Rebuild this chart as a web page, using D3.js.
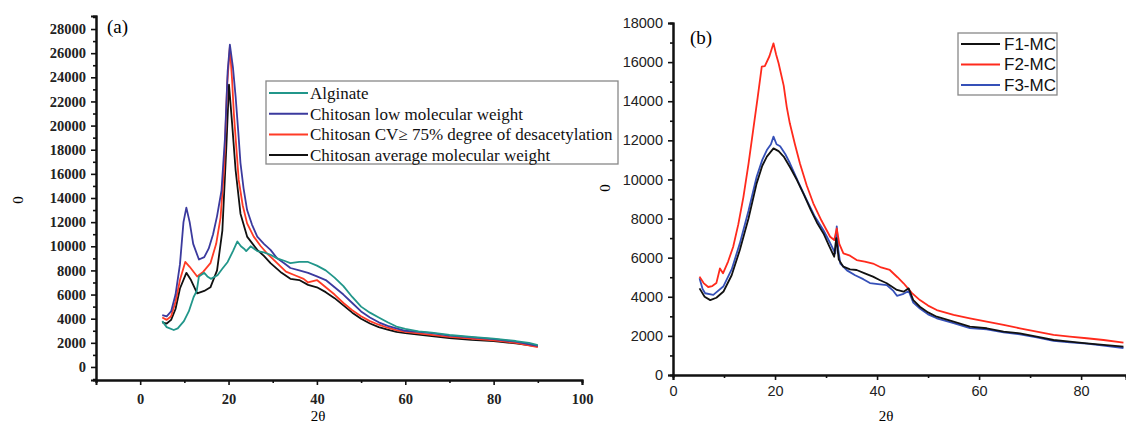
<!DOCTYPE html>
<html>
<head>
<meta charset="utf-8">
<script src="https://cdn.jsdelivr.net/npm/d3@7"></script>
<style>
    body { margin: 0; background: #fff; }
    svg { display: block; }
    .serif text { font-family: "Liberation Serif", "DejaVu Serif", serif; }
    .sans text { font-family: "Liberation Sans", Arial, sans-serif; }
</style>
</head>
<body>
<div id="chart"></div>
<script>
// panel (a) - [2theta, intensity]
const alginate = [[5,3800],[6,3300],[7.6,3060],[8.5,3200],[9.9,3800],[11,4600],[12.1,5800],[12.8,6300],[13.3,7500],[14.5,7800],[15.2,7500],[16,7300],[17.5,7600],[18.5,8100],[19.8,8700],[21,9600],[22,10400],[22.8,10000],[23.5,9800],[24,9600],[25,10000],[26.5,9600],[28,9500],[29.5,9300],[31,9000],[32.6,8800],[34,8600],[36,8700],[38,8700],[40,8400],[42,8000],[44,7400],[46,6700],[48,5800],[50,5000],[52,4500],[54,4100],[56,3700],[58,3350],[60,3150],[63,2950],[66,2850],[70,2650],[75,2500],[80,2350],[85,2150],[88,2000],[90,1800]];
const chitosanLow = [[5,4300],[6,4200],[7,4600],[8,6000],[9,8500],[9.8,12000],[10.45,13200],[11.2,12000],[12,10200],[13.3,8900],[14.5,9100],[15.5,9800],[16.5,11000],[17.4,12500],[18.4,14600],[19.2,19000],[19.8,24500],[20.3,26700],[21,24800],[21.6,22400],[22.2,19500],[22.7,16900],[23.4,14800],[24.2,13000],[25.3,11800],[26.5,10800],[28,10200],[29.5,9700],[31,9000],[32.6,8600],[34,8200],[36,8000],[38,7800],[40,7500],[42,7200],[44,6600],[46,6000],[48,5300],[50,4600],[52,4100],[54,3700],[56,3400],[58,3200],[60,3000],[63,2900],[66,2800],[70,2600],[75,2450],[80,2300],[85,2100],[90,1750]];
const chitosanCV = [[5,4100],[6,3900],[7,4200],[8,5400],[9,7200],[10.2,8700],[11.2,8300],[12.9,7500],[14.3,7900],[15.9,8600],[17.2,10200],[18.2,12400],[19,16500],[19.7,23500],[20.3,26500],[20.8,23800],[21.2,21000],[21.8,18000],[22.3,15500],[23.2,13400],[24.2,11900],[25.7,10800],[27.3,10000],[29,9300],[31,8600],[33,7900],[35,7600],[37,7300],[38,7000],[40,7200],[42,6600],[44,6000],[46,5300],[48,4700],[50,4200],[52,3800],[54,3500],[56,3250],[58,3050],[60,2900],[65,2700],[70,2500],[75,2350],[80,2200],[85,2000],[90,1650]];
const chitosanAvg = [[5,3700],[6,3600],[7,3900],[8,4800],[9,6500],[10.45,7800],[11.5,7200],[12.9,6100],[14.5,6300],[15.9,6600],[17.4,8000],[18.6,11300],[19.5,18200],[20.1,23400],[20.8,20200],[21.6,16300],[22.7,12700],[24.2,10800],[26.5,9700],[28,9200],[29.5,8600],[32,7800],[34,7300],[36,7200],[38,6800],[40,6600],[42,6200],[44,5700],[46,5100],[48,4500],[50,4000],[52,3600],[54,3300],[56,3100],[58,2900],[60,2800],[65,2600],[70,2400],[75,2250],[80,2150],[85,1950],[90,1700]];

// panel (b) - [2theta, intensity]
const f1mc = [[5.2,4430],[6.2,4000],[7.3,3830],[8.5,3950],[9.9,4270],[11.5,5100],[13.1,6390],[14.8,8000],[16.4,9800],[17.5,10700],[18.4,11170],[19.7,11590],[20.7,11450],[21.7,11170],[23,10600],[24.3,9970],[25.7,9200],[27,8440],[28.2,7800],[29.5,7240],[30.6,6600],[31.6,6050],[32,7000],[32.5,5900],[33.4,5540],[34.7,5400],[36,5370],[37.6,5200],[39.2,5030],[40.5,4860],[41.9,4690],[43.9,4350],[45.2,4260],[46.2,4430],[47.1,3830],[48.4,3490],[50,3200],[51.7,2980],[55,2730],[58.2,2470],[61.5,2390],[64.8,2220],[68,2130],[71.3,1960],[74.6,1790],[77.8,1710],[81.1,1620],[84.4,1540],[88.3,1450]];
const f2mc = [[5.2,5030],[6,4700],[6.9,4500],[7.7,4550],[8.5,4700],[9.2,5450],[9.8,5200],[10.8,5800],[11.8,6560],[12.8,7700],[13.8,9100],[14.8,10800],[15.7,12500],[16.6,14200],[17.4,15770],[18,15800],[18.9,16300],[19.7,16960],[20.2,16400],[20.7,15940],[21.7,14800],[22.3,13700],[22.9,12870],[23.9,11800],[24.9,10800],[26.2,9700],[27.5,8780],[29.1,7900],[30.8,7070],[31.6,6900],[32.1,7500],[32.6,6700],[33.4,6220],[34.7,6100],[36,5880],[37.6,5800],[39.2,5700],[40.8,5500],[42.5,5370],[44,5000],[45.2,4690],[46.8,4200],[48.4,3830],[50,3550],[51.7,3320],[55,3070],[58.2,2900],[61.5,2730],[64.8,2560],[68,2390],[71.3,2220],[74.6,2050],[77.8,1960],[81.1,1880],[84.4,1790],[88.3,1650]];
const f3mc = [[5.2,4950],[5.8,4400],[6.3,4180],[7.9,4100],[9.9,4540],[11.5,5400],[13.1,6730],[14.8,8400],[16.4,10140],[17.5,11000],[18.4,11500],[19.2,11800],[19.7,12190],[20.3,11800],[21,11700],[22,11300],[22.9,10840],[24.5,9900],[26.2,8950],[27.8,8100],[29.5,7400],[30.7,6800],[31.8,6220],[32.1,7600],[32.4,6400],[32.8,5700],[34.1,5350],[35.7,5100],[37.3,4900],[38.6,4700],[40.2,4650],[41.9,4600],[43.2,4300],[43.9,4050],[45.2,4150],[46.2,4300],[47.1,3700],[48.4,3400],[50,3100],[51.7,2900],[55,2650],[58.2,2400],[61.5,2330],[64.8,2180],[68,2080],[71.3,1920],[74.6,1750],[77.8,1670],[81.1,1600],[84.4,1500],[88.3,1380]];

const seriesA = [
    { name: "Alginate", color: "#21968a", values: alginate },
    { name: "Chitosan low molecular weight", color: "#3b3a9e", values: chitosanLow },
    { name: "Chitosan CV\u2265 75% degree of desacetylation", color: "#ff3b26", values: chitosanCV },
    { name: "Chitosan average molecular weight", color: "#111111", values: chitosanAvg }
];
const seriesB = [
    { name: "F1-MC", color: "#111111", values: f1mc },
    { name: "F2-MC", color: "#ff2a1c", values: f2mc },
    { name: "F3-MC", color: "#3550b8", values: f3mc }
];
const ticksAx = [0, 20, 40, 60, 80, 100];
const ticksAy = d3.range(0, 28001, 2000);
const ticksBx = [0, 20, 40, 60, 80];
const ticksBy = d3.range(0, 18001, 2000);

const svg = d3.select("#chart").append("svg")
    .attr("width", 1126)
    .attr("height", 424);

function drawPanel(cfg) {
    let g = svg.append("g").attr("class", cfg.cls);
    let x = d3.scaleLinear().domain(cfg.xDomain).range(cfg.xRange);
    let y = d3.scaleLinear().domain(cfg.yDomain).range(cfg.yRange);

    // minor ticks first, then major with labels
    g.append("g")
        .attr("transform", "translate(0," + cfg.yRange[0] + ")")
        .call(d3.axisBottom(x).tickValues(cfg.xMinor).tickSize(3).tickFormat(""));
    g.append("g")
        .attr("transform", "translate(" + cfg.xRange[0] + ",0)")
        .call(d3.axisLeft(y).tickValues(cfg.yMinor).tickSize(3).tickFormat(""));

    let ax = g.append("g")
        .attr("transform", "translate(0," + cfg.yRange[0] + ")")
        .call(d3.axisBottom(x).tickValues(cfg.xTicks).tickSize(5).tickPadding(cfg.xPad).tickFormat(d3.format("d")));
    let ay = g.append("g")
        .attr("transform", "translate(" + cfg.xRange[0] + ",0)")
        .call(d3.axisLeft(y).tickValues(cfg.yTicks).tickSize(5).tickPadding(5).tickFormat(d3.format("d")));

    g.selectAll(".domain, .tick line").attr("stroke", "#111").attr("stroke-width", 1.6);
    g.selectAll(".domain").attr("stroke-width", 2);
    [ax, ay].forEach(a => a.selectAll("text")
        .attr("fill", "#222")
        .style("font-size", cfg.tickFont)
        .style("font-weight", cfg.tickWeight));

    let line = d3.line()
        .x(d => x(d[0]))
        .y(d => y(d[1]));

    g.append("g").selectAll("path")
        .data(cfg.series.slice().reverse())
        .enter().append("path")
        .attr("fill", "none")
        .attr("stroke", d => d.color)
        .attr("stroke-width", 1.8)
        .attr("stroke-linejoin", "round")
        .attr("d", d => line(d.values));

    // panel letter and axis titles
    g.append("text").attr("x", cfg.letter[0]).attr("y", cfg.letter[1])
        .style("font-family", "Liberation Serif, serif")
        .style("font-size", "19px").text(cfg.letterText);
    g.append("text").attr("x", cfg.xTitle[0]).attr("y", cfg.xTitle[1])
        .attr("text-anchor", "middle")
        .style("font-family", "Liberation Serif, serif")
        .style("font-size", "15px").text("2\u03b8");
    g.append("text")
        .attr("transform", "translate(" + cfg.yTitle[0] + "," + cfg.yTitle[1] + ") rotate(-90)")
        .attr("text-anchor", "middle")
        .style("font-family", "Liberation Serif, serif")
        .style("font-size", "15px").text("0");

    // legend
    let lg = cfg.legend;
    let leg = g.append("g");
    leg.append("rect")
        .attr("x", lg.x).attr("y", lg.y)
        .attr("width", lg.w).attr("height", lg.h)
        .attr("fill", "#fff")
        .attr("stroke", "#888").attr("stroke-width", 1.3);
    let item = leg.selectAll(".item")
        .data(cfg.series)
        .enter().append("g")
        .attr("class", "item")
        .attr("transform", (d, i) => "translate(" + lg.x + "," + (lg.y0 + i * lg.step) + ")");
    item.append("line")
        .attr("x1", lg.l1).attr("x2", lg.l2)
        .attr("stroke", d => d.color).attr("stroke-width", 2);
    item.append("text")
        .attr("x", lg.tx).attr("dy", "0.35em")
        .style("font-family", lg.font)
        .style("font-size", lg.size)
        .attr("fill", "#111")
        .text(d => d.name);
}

drawPanel({
    cls: "serif",
    series: seriesA,
    xDomain: [-10, 100], xRange: [96, 582],
    yDomain: [-1080, 29080], yRange: [380, 16],
    xTicks: ticksAx, xMinor: [-10, 10, 30, 50, 70, 90],
    yTicks: ticksAy, yMinor: d3.range(-1000, 29001, 1000).filter(v => v % 2000 !== 0),
    xPad: 9, tickFont: "14.5px", tickWeight: "bold",
    letter: [107, 33], letterText: "(a)",
    xTitle: [318, 421], yTitle: [23, 200],
    legend: { x: 266, y: 81, w: 352, h: 83, y0: 93, step: 20.7, l1: 3, l2: 42, tx: 44,
              font: "Liberation Serif, serif", size: "17px" }
});

drawPanel({
    cls: "sans",
    series: seriesB,
    xDomain: [0, 88.8], xRange: [673, 1126],
    yDomain: [0, 18000], yRange: [375, 23],
    xTicks: ticksBx, xMinor: [10, 30, 50, 70],
    yTicks: ticksBy, yMinor: d3.range(1000, 18000, 2000),
    xPad: 6, tickFont: "14.5px", tickWeight: "normal",
    letter: [690, 44], letterText: "(b)",
    xTitle: [886, 421], yTitle: [610, 188],
    legend: { x: 958, y: 33, w: 99, h: 62, y0: 44, step: 20.5, l1: 3, l2: 42, tx: 46,
              font: "Liberation Sans, Arial, sans-serif", size: "17px" }
});
</script>
</body>
</html>
